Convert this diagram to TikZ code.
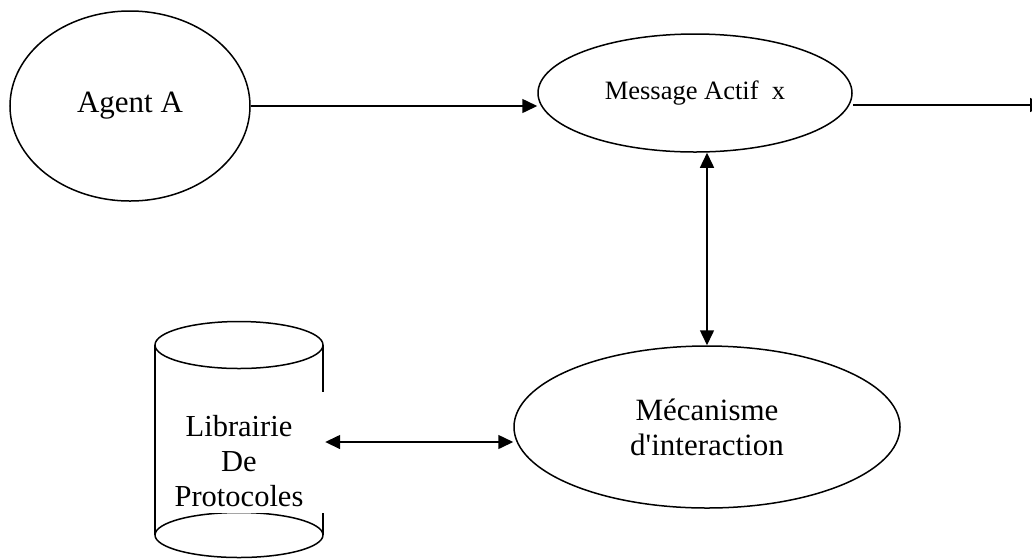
\documentclass[tikz,border=0pt]{standalone}
\usepackage{fontspec}
\setmainfont{Liberation Serif}
\usetikzlibrary{shapes.geometric,arrows.meta}

\tikzset{
  oval/.style={ellipse, draw=black, line width=1.5pt, inner sep=0pt, fill=white},
  link/.style={line width=1.5pt, -{Triangle[length=15pt,width=14pt]}},
  duplex/.style={line width=1.5pt, {Triangle[length=15pt,width=14pt]}-{Triangle[length=15pt,width=14pt]}},
  bigtext/.style={font=\fontsize{31}{35}\selectfont, align=center},
  midtext/.style={font=\fontsize{26.5}{30}\selectfont},
  dbtext/.style={font=\fontsize{30.5}{35}\selectfont, align=center},
}

\begin{document}
\begin{tikzpicture}[x=1pt, y=-1pt]
  \clip (0,0) rectangle (1032,558);
  \fill[white] (0,0) rectangle (1032,558);

  % ellipses
  \node[oval, minimum width=240pt, minimum height=190pt, bigtext] (A) at (130,106) {Agent A};
  \node[oval, minimum width=314pt, minimum height=118pt, midtext] (M) at (695,93) {Message Actif~~x};
  \node[oval, minimum width=386pt, minimum height=162pt, bigtext] (K) at (707,427) {Mécanisme\\d\textquotesingle interaction};

  % protocol library drawn as a cylinder
  \begin{scope}[line width=1.5pt]
    \draw (155,345) -- (155,535);
    \draw (323,345) -- (323,535);
    \draw[fill=white] (239,345) ellipse [x radius=84pt, y radius=23.5pt];
    \draw (155,535) arc[start angle=180, end angle=360, x radius=84pt, y radius=22.5pt];
    \draw (155,535) arc[start angle=180, end angle=0, x radius=84pt, y radius=22.5pt];
  \end{scope}
  \node[fill=white, inner sep=0pt, minimum width=164pt, minimum height=121pt] (libbox) at (243,452.5) {};
  \node[dbtext] (lib) at (239,461) {Librairie\\De\\Protocoles};

  % connectors
  \coordinate (out) at (1045,105);
  \coordinate (hl) at ([yshift=10.5pt]libbox.east);
  \draw[link] (A.east) -- (A.east -| M.west);
  \draw[link] (M.east |- out) -- (out);
  \draw[duplex] (K.north) -- (K.north |- M.south);
  \draw[duplex] (hl) -- (hl -| K.west);
\end{tikzpicture}
\end{document}
